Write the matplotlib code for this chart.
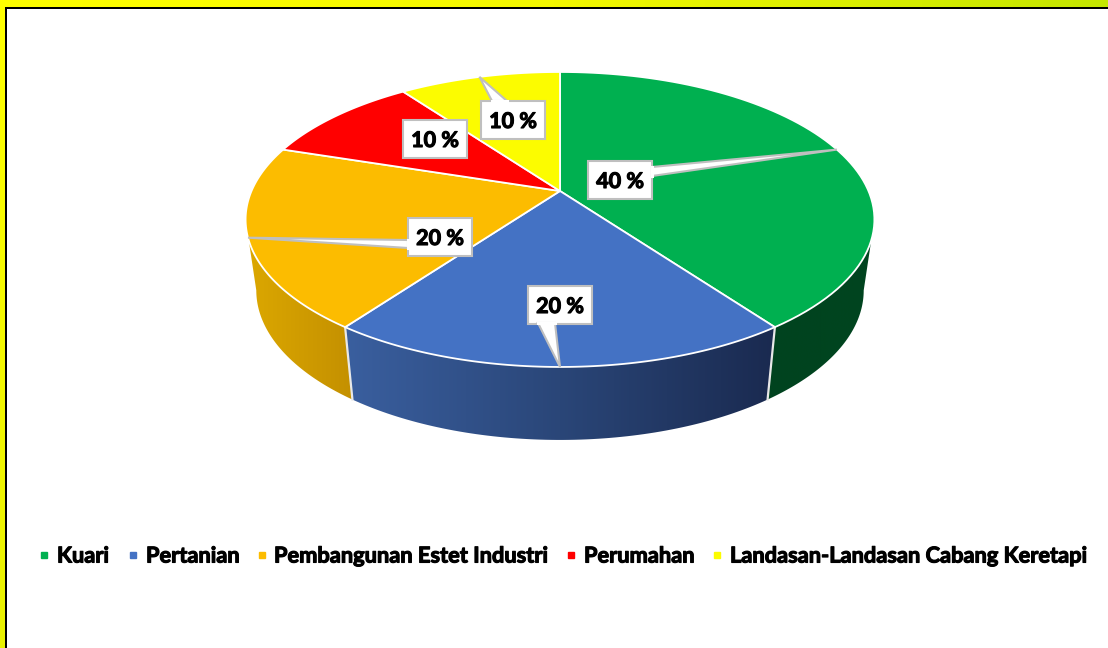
#! /usr/bin/env python
# 3D looking pie chart, the slices are drawn as polygons through a perspective projection

import numpy as np
import matplotlib
matplotlib.use('Agg')
import matplotlib.pyplot as plt
from matplotlib.colors import LinearSegmentedColormap
from matplotlib.patches import Polygon
import matplotlib.patheffects as pe

# ----- Data ------------------------------------------------------------------
categories = ['Kuari', 'Pertanian', 'Pembangunan Estet Industri', 'Perumahan',
              'Landasan-Landasan Cabang Keretapi']
values = [40, 20, 20, 10, 10]
colors = ['#00B050', '#4472C4', '#FCBC00', '#FF0000', '#FCFC00']

plt.rcParams['font.family'] = ['Lato', 'DejaVu Sans']

fig = plt.figure(figsize=(11.08, 6.48), dpi=100)
ax = fig.add_axes([0, 0, 1, 1])
ax.axis('off')


# ----- Projection of the unit circle, angle is clockwise from the top --------
k = 0.193       # perspective strength


def top_face(theta):
    th = np.radians(theta)
    u, v = np.sin(th), np.cos(th)
    w = 1 + k * v
    return 560 + 308.5 * u / w, 191 - 142 * v / w


def bottom_face(theta):
    th = np.radians(theta)
    u, v = np.sin(th), np.cos(th)
    w = 1 + k * v
    return 560 + 298 * u / w, 261.5 + 144 * (-v) / w


def arc(func, a, b, n=80):
    x, y = func(np.linspace(a, b, n))
    return np.column_stack([x, y])


# angle limits of each slice, from the values
edges = np.concatenate([[0], np.cumsum(values)]) * 360.0 / sum(values)
mids = (edges[:-1] + edges[1:]) / 2

# ----- Side wall, with left to right shading ---------------------------------
sil_right = np.degrees(np.arccos(-k))     # where the rim turns out of sight
sil_left = 360 - sil_right

side_spans = [(sil_right, edges[1]), (edges[1], edges[2]), (edges[2], sil_left)]
side_shades = [['#00431F', '#00451F'],
               ['#3A5F9F', '#2A4678', '#1A2A50'],
               ['#DCA800', '#C49000']]

for (a, b), shade in zip(side_spans, side_shades):
    pts = np.vstack([arc(top_face, a, b), arc(bottom_face, b, a)])
    cmap = LinearSegmentedColormap.from_list('side', shade)
    x0, x1 = pts[:, 0].min(), pts[:, 0].max()
    y0, y1 = pts[:, 1].min(), pts[:, 1].max()
    clip = Polygon(pts, closed=True, transform=ax.transData, fc='none', ec='none')
    ax.add_patch(clip)
    im = ax.imshow(np.linspace(0, 1, 256).reshape(1, -1), cmap=cmap, aspect='auto',
                   extent=[x0, x1, y1, y0], zorder=1)
    im.set_clip_path(clip)

# white seams between the wall sections
for e in edges[1:3]:
    ax.plot(*zip(top_face(e), bottom_face(e)), color='#E8E8E8', lw=1.6, zorder=2)

# ----- Top face --------------------------------------------------------------
for i in range(len(values)):
    pts = np.vstack([[[560, 191]], arc(top_face, edges[i], edges[i + 1])])
    ax.add_patch(Polygon(pts, closed=True, fc=colors[i], ec='white', lw=1.3,
                         joinstyle='round', zorder=3))

# ----- Callout labels --------------------------------------------------------
boxes = [(588, 161), (528, 286), (408, 218), (403, 120), (481, 101)]
bases = [((652, 167), (652, 176)), ((538, 323), (555, 323)),
         ((408, 240), (408, 248)), None, ((492, 101), (507, 101))]
box_w, box_h = 64, 38

for i, (bx, by) in enumerate(boxes):
    box = [(bx, by), (bx + box_w, by), (bx + box_w, by + box_h), (bx, by + box_h)]
    ax.add_patch(Polygon(box, closed=True, fc='white', ec='#BFBFBF', lw=1.5, zorder=5))
    if bases[i] is not None:
        tip = top_face(mids[i])
        ax.add_patch(Polygon([bases[i][0], tip, bases[i][1]], closed=True, fc='white',
                             ec='#BFBFBF', lw=1.5, zorder=5))
        # hide the border where the pointer joins the box
        ax.plot(*zip(*bases[i]), color='white', lw=2.2, zorder=6)
    ax.text(bx + box_w / 2, by + box_h / 2 + 1.5, '%d %%' % values[i], ha='center', va='center',
            fontsize=15.5, fontweight='bold', color='black', zorder=7,
            path_effects=[pe.withStroke(linewidth=0.8, foreground='black')])

# ----- Legend ----------------------------------------------------------------
legend_marks = [44, 133, 262, 571, 717]
legend_text = [57, 146, 274, 584, 730]
for name, col, mx, tx in zip(categories, colors, legend_marks, legend_text):
    ax.plot([mx], [555], marker='s', ms=5, color=col, mec=col, ls='none', zorder=5)
    ax.text(tx, 556, name, ha='left', va='center', fontsize=15.7, fontweight='bold',
            color='black', zorder=5,
            path_effects=[pe.withStroke(linewidth=0.8, foreground='black')])

# ----- Frame: yellow band top and left, black line inside ---------------------
yg = LinearSegmentedColormap.from_list('band', ['#FFFF00', '#F4F800', '#C4E600'])
ax.imshow(np.linspace(0, 1, 256).reshape(1, -1), cmap=yg, aspect='auto',
          extent=[0, 1108, 7, 0], zorder=8)
yl = LinearSegmentedColormap.from_list('bandl', ['#FFFF00', '#E8F000'])
ax.imshow(np.linspace(0, 1, 256).reshape(-1, 1), cmap=yl, aspect='auto',
          extent=[0, 5, 648, 0], zorder=8)
ax.fill_between([5, 1108], 7, 9, color='black', lw=0, zorder=9)
ax.fill_between([5, 7], 7, 648, color='black', lw=0, zorder=9)

ax.set_xlim(0, 1108)
ax.set_ylim(648, 0)

fig.savefig('out.png', dpi=100, facecolor='white')
